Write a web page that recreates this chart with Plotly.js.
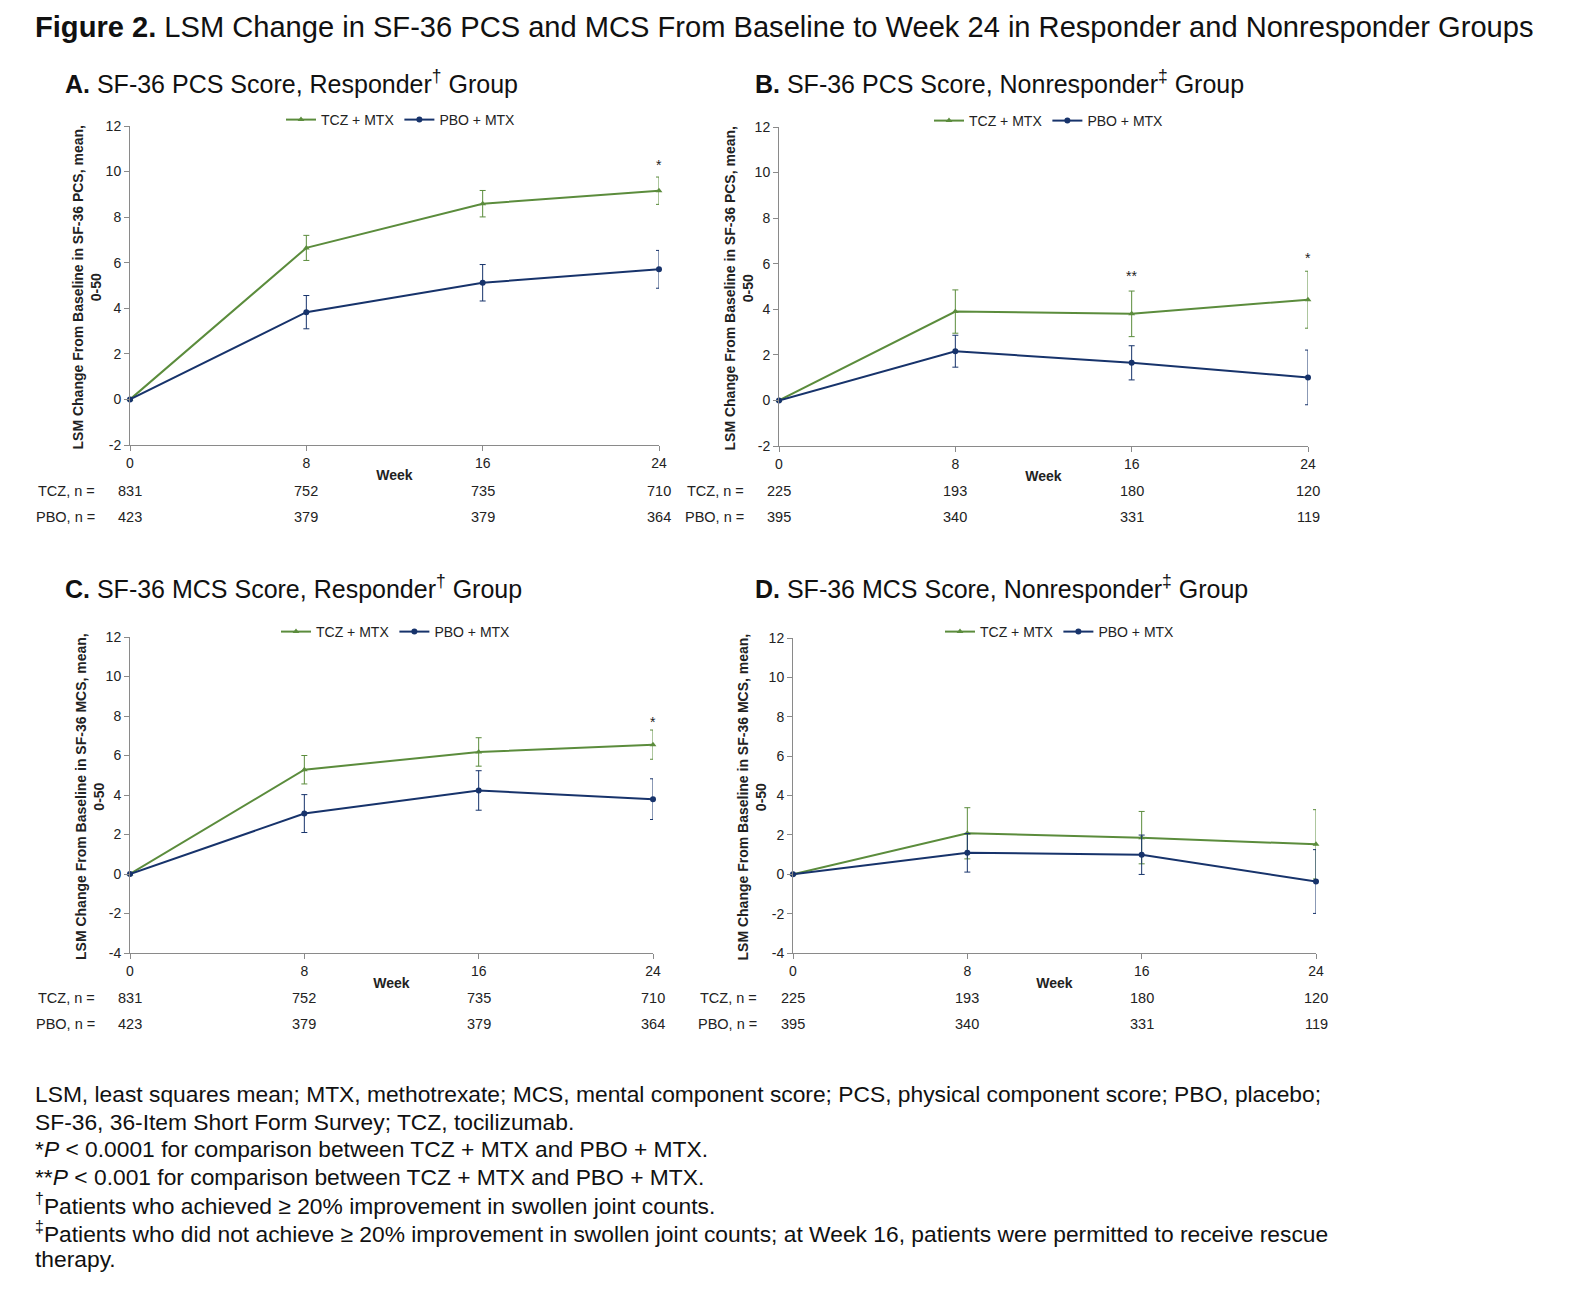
<!DOCTYPE html>
<html>
<head>
<meta charset="utf-8">
<script src="https://cdn.plot.ly/plotly-3.0.1.min.js"></script>
<style>html,body{margin:0;padding:0;background:#fff;}#chart{width:1582px;height:1297px;}</style>
</head>
<body>
<div id="chart"></div>
<script>
// ---------------- DATA ----------------
const weeks = [0, 8, 16, 24];
const weekTickText = ['0', '8', '16', '24'];
const seriesNames = ['TCZ + MTX', 'PBO + MTX'];

// A. SF-36 PCS, Responder
const pcsRespTCZ = [0, 6.65, 8.59, 9.16];
const pcsRespTCZErr = [0, 0.55, 0.58, 0.60];
const pcsRespPBO = [0, 3.83, 5.12, 5.71];
const pcsRespPBOErr = [0, 0.73, 0.80, 0.83];
// B. SF-36 PCS, Nonresponder
const pcsNonTCZ = [0, 3.90, 3.80, 4.42];
const pcsNonTCZErr = [0, 0.95, 1.00, 1.25];
const pcsNonPBO = [0, 2.16, 1.65, 1.01];
const pcsNonPBOErr = [0, 0.70, 0.75, 1.20];
// C. SF-36 MCS, Responder
const mcsRespTCZ = [0, 5.28, 6.18, 6.55];
const mcsRespTCZErr = [0, 0.72, 0.72, 0.74];
const mcsRespPBO = [0, 3.06, 4.23, 3.79];
const mcsRespPBOErr = [0, 0.96, 1.00, 1.03];
// D. SF-36 MCS, Nonresponder
const mcsNonTCZ = [0, 2.08, 1.86, 1.52];
const mcsNonTCZErr = [0, 1.30, 1.33, 1.76];
const mcsNonPBO = [0, 1.09, 0.99, -0.37];
const mcsNonPBOErr = [0, 0.98, 1.00, 1.62];

// Patient numbers
const respTCZn = [831, 752, 735, 710];
const respPBOn = [423, 379, 379, 364];
const nonTCZn = [225, 193, 180, 120];
const nonPBOn = [395, 340, 331, 119];

// Y ticks
const yTicksPCS = [-2, 0, 2, 4, 6, 8, 10, 12];
const yTickTextPCS = ['-2', '0', '2', '4', '6', '8', '10', '12'];
const yTicksMCS = [-4, -2, 0, 2, 4, 6, 8, 10, 12];
const yTickTextMCS = ['-4', '-2', '0', '2', '4', '6', '8', '10', '12'];

// Significance markers
const sigAWeeks = [24], sigAText = ['*'], sigAY = [10.3];
const sigBWeeks = [16, 24], sigBText = ['**', '*'], sigBY = [5.45, 6.25];
const sigCWeeks = [24], sigCText = ['*'], sigCY = [7.7];

// Texts
const figTitle = '<b>Figure 2.</b> LSM Change in SF-36 PCS and MCS From Baseline to Week 24 in Responder and Nonresponder Groups';
const panelTitles = [
  '<b>A.</b> SF-36 PCS Score, Responder<sup>†</sup> Group',
  '<b>B.</b> SF-36 PCS Score, Nonresponder<sup>‡</sup> Group',
  '<b>C.</b> SF-36 MCS Score, Responder<sup>†</sup> Group',
  '<b>D.</b> SF-36 MCS Score, Nonresponder<sup>‡</sup> Group'
];
const yTitlePCS = '<b>LSM Change From Baseline in SF-36 PCS, mean,<br>0-50</b>';
const yTitleMCS = '<b>LSM Change From Baseline in SF-36 MCS, mean,<br>0-50</b>';
const footnotes = [
  'LSM, least squares mean; MTX, methotrexate; MCS, mental component score; PCS, physical component score; PBO, placebo;',
  'SF-36, 36-Item Short Form Survey; TCZ, tocilizumab.',
  '*<i>P</i> < 0.0001 for comparison between TCZ + MTX and PBO + MTX.',
  '**<i>P</i> < 0.001 for comparison between TCZ + MTX and PBO + MTX.',
  '<sup>†</sup>Patients who achieved ≥ 20% improvement in swollen joint counts.',
  '<sup>‡</sup>Patients who did not achieve ≥ 20% improvement in swollen joint counts; at Week 16, patients were permitted to receive rescue',
  'therapy.'
];

// ---------------- STYLE / GEOMETRY ----------------
const W = 1582, H = 1297;
const FONT = 'Arial, "Liberation Sans", sans-serif';
const GREEN = '#5b8c3c';
const NAVY = '#17336b';
const AXIS = '#8a8a8a';
const TXT = '#222';
const SMALL = 14;
const xp = px => px / W;
const yp = py => 1 - py / H;

const panels = [
  {x0: 130, x1: 659, yTop: 126, yBot: 445, range: [-2, 12], tv: yTicksPCS, tt: yTickTextPCS,
   tcz: pcsRespTCZ, tczE: pcsRespTCZErr, pbo: pcsRespPBO, pboE: pcsRespPBOErr,
   nT: respTCZn, nP: respPBOn, title: panelTitles[0], titleX: 63, titleY: 82,
   yTitle: yTitlePCS, yTitleX: 87, legX: 401, legY: 120, nLabX: 97, nTY: 491, nPY: 517,
   sig: [sigAWeeks, sigAY, sigAText]},
  {x0: 779, x1: 1308, yTop: 127, yBot: 446, range: [-2, 12], tv: yTicksPCS, tt: yTickTextPCS,
   tcz: pcsNonTCZ, tczE: pcsNonTCZErr, pbo: pcsNonPBO, pboE: pcsNonPBOErr,
   nT: nonTCZn, nP: nonPBOn, title: panelTitles[1], titleX: 753, titleY: 82,
   yTitle: yTitlePCS, yTitleX: 738, legX: 1049, legY: 121, nLabX: 746, nTY: 491, nPY: 517,
   sig: [sigBWeeks, sigBY, sigBText]},
  {x0: 130, x1: 653, yTop: 637, yBot: 953, range: [-4, 12], tv: yTicksMCS, tt: yTickTextMCS,
   tcz: mcsRespTCZ, tczE: mcsRespTCZErr, pbo: mcsRespPBO, pboE: mcsRespPBOErr,
   nT: respTCZn, nP: respPBOn, title: panelTitles[2], titleX: 63, titleY: 587,
   yTitle: yTitleMCS, yTitleX: 90, legX: 396, legY: 632, nLabX: 97, nTY: 998, nPY: 1024,
   sig: [sigCWeeks, sigCY, sigCText]},
  {x0: 793, x1: 1316, yTop: 638, yBot: 953, range: [-4, 12], tv: yTicksMCS, tt: yTickTextMCS,
   tcz: mcsNonTCZ, tczE: mcsNonTCZErr, pbo: mcsNonPBO, pboE: mcsNonPBOErr,
   nT: nonTCZn, nP: nonPBOn, title: panelTitles[3], titleX: 753, titleY: 587,
   yTitle: yTitleMCS, yTitleX: 751, legX: 1060, legY: 632, nLabX: 759, nTY: 998, nPY: 1024,
   sig: [[], [], []]}
];

const traces = [];
const annotations = [];
const layout = {
  width: W, height: H,
  margin: {l: 0, r: 0, t: 0, b: 0},
  paper_bgcolor: '#fff', plot_bgcolor: 'rgba(0,0,0,0)',
  font: {family: FONT, size: SMALL, color: TXT},
  showlegend: true,
  annotations: annotations
};

panels.forEach((p, i) => {
  const k = i === 0 ? '' : String(i + 1);
  const xa = 'x' + k, ya = 'y' + k;
  const lg = 'legend' + k;
  traces.push({
    type: 'scatter', mode: 'lines+markers', name: seriesNames[0],
    x: weeks, y: p.tcz, xaxis: xa, yaxis: ya, legend: lg,
    line: {color: GREEN, width: 2},
    marker: {symbol: 'triangle-up', size: 6, color: GREEN},
    error_y: {type: 'data', array: p.tczE, visible: true, color: GREEN, thickness: 1, width: 3},
    cliponaxis: false, hoverinfo: 'x+y'
  });
  traces.push({
    type: 'scatter', mode: 'lines+markers', name: seriesNames[1],
    x: weeks, y: p.pbo, xaxis: xa, yaxis: ya, legend: lg,
    line: {color: NAVY, width: 2},
    marker: {symbol: 'circle', size: 6, color: NAVY},
    error_y: {type: 'data', array: p.pboE, visible: true, color: NAVY, thickness: 1, width: 3},
    cliponaxis: false, hoverinfo: 'x+y'
  });

  layout['xaxis' + k] = {
    domain: [xp(p.x0), xp(p.x1)], anchor: ya, range: [0, 24],
    tickvals: weeks, ticktext: weekTickText,
    showgrid: false, zeroline: false, showline: true, linecolor: AXIS, linewidth: 1,
    ticks: 'outside', ticklen: 5, tickcolor: AXIS, tickfont: {size: SMALL, color: TXT},
    title: {text: '<b>Week</b>', font: {size: 14, color: TXT}, standoff: 0},
    fixedrange: true
  };
  layout['yaxis' + k] = {
    domain: [yp(p.yBot), yp(p.yTop)], anchor: xa, range: p.range,
    tickvals: p.tv, ticktext: p.tt,
    showgrid: false, zeroline: false, showline: true, linecolor: AXIS, linewidth: 1,
    ticks: 'outside', ticklen: 5, tickcolor: AXIS, tickfont: {size: SMALL, color: TXT},
    fixedrange: true
  };
  layout[lg] = {
    orientation: 'h', x: xp(p.legX), y: yp(p.legY), xanchor: 'center', yanchor: 'middle',
    font: {size: SMALL, color: TXT}, bgcolor: 'rgba(0,0,0,0)', itemwidth: 30,
    tracegroupgap: 0, itemclick: false, itemdoubleclick: false
  };

  // panel title
  annotations.push({text: p.title, xref: 'paper', yref: 'paper', x: xp(p.titleX), y: yp(p.titleY),
    xanchor: 'left', yanchor: 'middle', showarrow: false, font: {size: 25, color: '#111'}});
  // y axis title
  annotations.push({text: p.yTitle, xref: 'paper', yref: 'paper', x: xp(p.yTitleX),
    y: yp((p.yTop + p.yBot) / 2 + 2), xanchor: 'center', yanchor: 'middle', textangle: -90,
    showarrow: false, font: {size: 14, color: TXT}});
  // n labels
  annotations.push({text: 'TCZ, n =', xref: 'paper', yref: 'paper', x: xp(p.nLabX), y: yp(p.nTY),
    xanchor: 'right', yanchor: 'middle', showarrow: false, font: {size: 14.5, color: TXT}});
  annotations.push({text: 'PBO, n =', xref: 'paper', yref: 'paper', x: xp(p.nLabX), y: yp(p.nPY),
    xanchor: 'right', yanchor: 'middle', showarrow: false, font: {size: 14.5, color: TXT}});
  weeks.forEach((w, j) => {
    annotations.push({text: String(p.nT[j]), xref: xa, yref: 'paper', x: w, y: yp(p.nTY),
      xanchor: 'center', yanchor: 'middle', showarrow: false, font: {size: 14.5, color: TXT}});
    annotations.push({text: String(p.nP[j]), xref: xa, yref: 'paper', x: w, y: yp(p.nPY),
      xanchor: 'center', yanchor: 'middle', showarrow: false, font: {size: 14.5, color: TXT}});
  });
  // significance
  p.sig[0].forEach((w, j) => {
    annotations.push({text: p.sig[2][j], xref: xa, yref: ya, x: w, y: p.sig[1][j],
      xanchor: 'center', yanchor: 'middle', showarrow: false, font: {size: 14, color: TXT}});
  });
});

// Figure title
annotations.push({text: figTitle, xref: 'paper', yref: 'paper', x: xp(33), y: yp(27),
  xanchor: 'left', yanchor: 'middle', showarrow: false, font: {size: 29.1, color: '#111'}});
// Footnotes
const footY = [1094, 1122, 1149, 1177, 1204, 1232, 1259];
footnotes.forEach((t, j) => {
  annotations.push({text: t, xref: 'paper', yref: 'paper', x: xp(33), y: yp(footY[j]),
    xanchor: 'left', yanchor: 'middle', showarrow: false, font: {size: 22.8, color: '#111'}});
});

Plotly.newPlot('chart', traces, layout, {displayModeBar: false});
</script>
</body>
</html>
